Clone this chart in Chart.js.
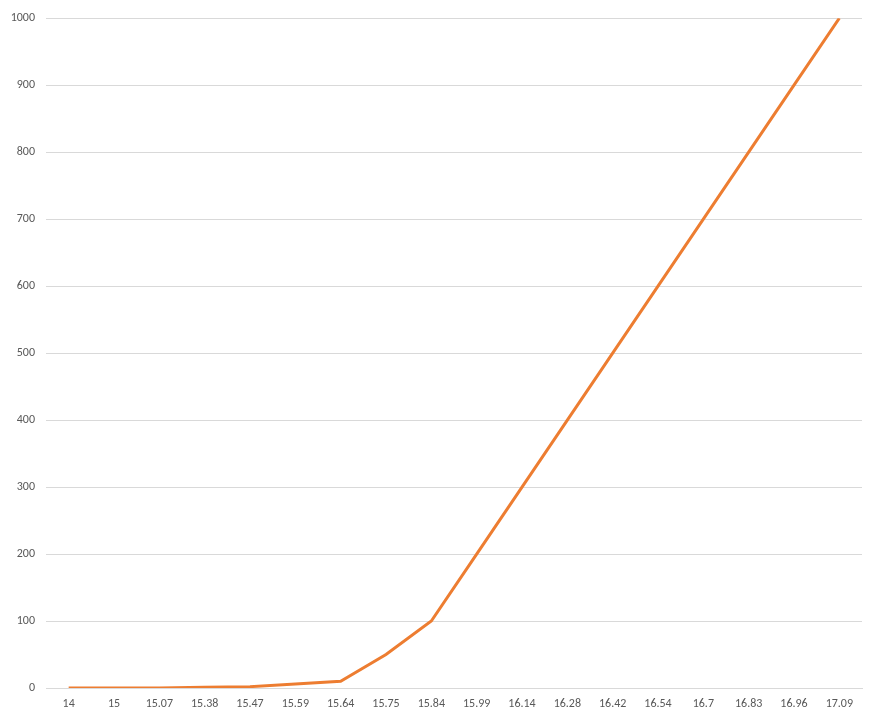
<!DOCTYPE html>
<html>
<head>
<meta charset="utf-8">
<script src="https://cdn.jsdelivr.net/npm/chart.js@4/dist/chart.umd.min.js"></script>
<style>
  html, body { margin: 0; padding: 0; background: #fff; }
  #wrap { width: 877px; height: 721px; }
</style>
</head>
<body>
<div id="wrap"><canvas id="chart" width="877" height="721"></canvas></div>
<script>
// Catégories (axe X) et valeurs
const categories = ['14', '15', '15.07', '15.38', '15.47', '15.59', '15.64', '15.75', '15.84',
    '15.99', '16.14', '16.28', '16.42', '16.54', '16.7', '16.83', '16.96', '17.09'];
const values = [0, 0, 0, 1, 2, 6, 10, 50, 100, 200, 300, 400, 500, 600, 700, 800, 900, 1000];
const yTicks = [0, 100, 200, 300, 400, 500, 600, 700, 800, 900, 1000];

Chart.defaults.font.family = 'Calibri, Carlito, "Liberation Sans", Arial, sans-serif';
Chart.defaults.font.size = 12;
Chart.defaults.color = '#595959';

const ctx = document.getElementById('chart').getContext('2d');
new Chart(ctx, {
    type: 'line',
    data: {
        labels: categories,
        datasets: [{
            data: values,
            borderColor: '#ED7D31',
            borderWidth: 3,
            pointRadius: 0,
            tension: 0,
            fill: false
        }]
    },
    options: {
        responsive: false,
        animation: false,
        layout: { padding: { top: 14, right: 15, left: 0, bottom: 0 } },
        plugins: { legend: { display: false }, tooltip: { enabled: false } },
        scales: {
            x: {
                offset: true,
                grid: { display: false, drawTicks: false },
                border: { display: true, color: '#d9d9d9', width: 1 },
                ticks: { padding: 9, maxRotation: 0, autoSkip: false },
                afterFit: s => { s.height = 33; }
            },
            y: {
                min: 0,
                max: 1000,
                afterBuildTicks: s => { s.ticks = yTicks.map(v => ({ value: v })); },
                grid: { color: '#d9d9d9', drawTicks: false },
                border: { display: false },
                ticks: { padding: 11, callback: v => String(v) },
                afterFit: s => { s.width = 46; }
            }
        }
    }
});
</script>
</body>
</html>
